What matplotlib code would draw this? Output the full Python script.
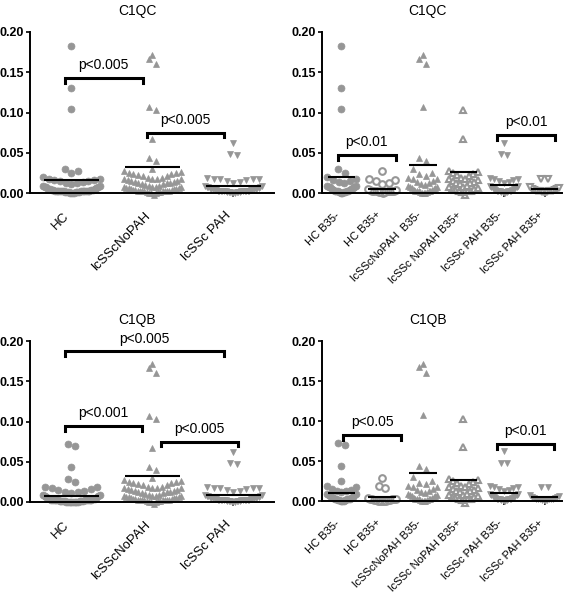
import numpy as np
import matplotlib
matplotlib.use("Agg")
import matplotlib.pyplot as plt

plt.rcParams['font.family'] = ['Liberation Sans', 'DejaVu Sans']

GRAY = '#969696'

# ---- data ----
# C1QC, split by B35 status
c1qc_hc_b35neg = [0.183, 0.130, 0.104, 0.030, 0.025,
                  0.020, 0.018, 0.016, 0.015, 0.014, 0.012,
                  0.000, 0.000, 0.001, 0.001, 0.001, 0.002, 0.002, 0.002, 0.003, 0.003,
                  0.004, 0.004, 0.005, 0.005, 0.006, 0.007, 0.007, 0.008, 0.009, 0.009]
c1qc_hc_b35pos = [0.027, 0.017, 0.016, 0.015, 0.012, 0.011,
                  0.000, 0.001, 0.001, 0.001, 0.002, 0.002, 0.002, 0.002, 0.003, 0.003,
                  0.003, 0.004, 0.004, 0.005]
nopah_b35neg = [0.171, 0.167, 0.160, 0.107, 0.044, 0.040, 0.030, 0.025, 0.023, 0.021,
                0.019, 0.018, 0.017, 0.015, 0.014, 0.013, 0.011,
                0.000, 0.000, 0.000, 0.001, 0.001, 0.002, 0.002, 0.002, 0.003, 0.003,
                0.004, 0.004, 0.005, 0.006, 0.006, 0.007, 0.008, 0.009, 0.010]
nopah_b35pos = [0.103, 0.067, 0.027, 0.026, 0.025, 0.024, 0.022, 0.021,
                0.019, 0.018, 0.017, 0.016, 0.015, 0.014, 0.013, 0.012, 0.011,
                -0.002, 0.001, 0.002, 0.003, 0.003, 0.004, 0.005, 0.005, 0.006, 0.007,
                0.008, 0.009]
pah_b35neg = [0.062, 0.048, 0.047,
              0.019, 0.018, 0.017, 0.016, 0.015, 0.014, 0.012,
              0.000, 0.000, 0.001, 0.001, 0.001, 0.002, 0.002, 0.002, 0.003, 0.003,
              0.003, 0.004, 0.004, 0.005, 0.005, 0.006, 0.006, 0.007, 0.008, 0.009,
              0.009]
pah_b35pos = [0.018, 0.017,
              0.000, 0.001, 0.001, 0.001, 0.002, 0.002, 0.002, 0.003, 0.003, 0.003,
              0.004, 0.004, 0.005, 0.005, 0.006, 0.007]

# C1QB, HC differs, lcSSc groups look the same as C1QC
c1qb_hc_b35neg = [0.072, 0.070, 0.044, 0.025,
                  0.019, 0.017, 0.015, 0.014, 0.013, 0.012, 0.011,
                  0.000, 0.000, 0.000, 0.001, 0.001, 0.001, 0.002, 0.002, 0.002, 0.003,
                  0.003, 0.004, 0.004, 0.005, 0.005, 0.006, 0.007, 0.008, 0.009, 0.009]
c1qb_hc_b35pos = [0.029, 0.019, 0.016,
                  0.000, 0.000, 0.000, 0.000, 0.000, 0.001, 0.001, 0.001, 0.001, 0.002,
                  0.002, 0.002, 0.003, 0.003, 0.004]

# means (horizontal bars) as drawn
c1qc_means_3 = [0.016, 0.032, 0.009]
c1qc_means_6 = [0.020, 0.0053, 0.035, 0.026, 0.010, 0.0046]
c1qb_means_3 = [0.0075, 0.032, 0.009]
c1qb_means_6 = [0.0104, 0.005, 0.035, 0.026, 0.010, 0.0046]

labels_3 = ['HC', 'lcSScNoPAH', 'lcSSc PAH']
labels_6 = ['HC B35-', 'HC B35+', 'lcSScNoPAH  B35-', 'lcSSc NoPAH B35+',
            'lcSSc PAH B35-', 'lcSSc PAH B35+']
labels_6b = ['HC B35-', 'HC B35+', 'lcSScNoPAH B35-', 'lcSSc NoPAH B35+',
             'lcSSc PAH B35-', 'lcSSc PAH B35+']

# brackets: (x start, x end, height, text)
brackets_tl = [(-0.08, 0.88, 0.143, 'p<0.005'), (0.93, 1.88, 0.075, 'p<0.005')]
brackets_tr = [(-0.09, 1.34, 0.047, 'p<0.01'), (3.83, 5.26, 0.072, 'p<0.01')]
brackets_bl = [(-0.08, 1.88, 0.187, 'p<0.005'), (-0.08, 0.87, 0.094, 'p<0.001'),
               (1.10, 2.05, 0.075, 'p<0.005')]
brackets_br = [(0.04, 1.47, 0.0825, 'p<0.05'), (3.83, 5.23, 0.071, 'p<0.01')]


def row_offsets(values, px_x, row_h=0.0095, marker_px=6.5, max_w=0.7):
    """prism-like scatter: points grouped in rows, lowest value in the middle,
    higher values pushed to the edges, row squeezed if it gets too wide"""
    values = np.asarray(values, dtype=float)
    order = np.argsort(values, kind='stable')
    offs = np.zeros(len(values))
    rows = []
    for i in order:
        if rows and values[i] < values[rows[-1][0]] + row_h:
            rows[-1].append(i)
        else:
            rows.append([i])
    for row in rows:
        n = len(row)
        if n == 1:
            continue
        step = min(marker_px / px_x, max_w / (n - 1))
        slots = np.arange(n) - (n - 1) / 2.0
        slots = sorted(slots, key=lambda s: (abs(s), -s))
        for k, idx in enumerate(row):
            offs[idx] = slots[k] * step
    return offs


def draw_panel(ax, title, groups, styles, means, labels, brackets, xlim, label_size):
    fig = ax.figure
    ax.set_xlim(*xlim)
    ax.set_ylim(0, 0.20)
    bbox = ax.get_position()
    px_x = bbox.width * fig.get_figwidth() * fig.dpi / (xlim[1] - xlim[0])

    for i, (vals, (marker, filled)) in enumerate(zip(groups, styles)):
        xs = i + row_offsets(vals, px_x)
        if filled:
            ax.plot(xs, vals, linestyle='none', marker=marker, ms=5.0, color=GRAY,
                    mec=GRAY, mew=0.5, clip_on=False, zorder=2)
        else:
            ax.plot(xs, vals, linestyle='none', marker=marker, ms=4.8, mfc='white',
                    mec=GRAY, mew=1.5, clip_on=False, zorder=2)
        ax.hlines(means[i], i - 0.34, i + 0.34, color='black', lw=1.5, zorder=3)

    for x1, x2, y, txt in brackets:
        ax.plot([x1, x1, x2, x2], [y - 0.006, y, y, y - 0.006], color='black', lw=2.2,
                clip_on=False, solid_joinstyle='miter')
        ax.text((x1 + x2) / 2, y + 0.016, txt, ha='center', va='center', fontsize=10)

    ax.text(0.44, 1.105, title, transform=ax.transAxes, ha='center', va='baseline',
            fontsize=10)

    for s in ['top', 'right']:
        ax.spines[s].set_visible(False)
    for s in ['left', 'bottom']:
        ax.spines[s].set_linewidth(1.4)
    ax.set_yticks([0, 0.05, 0.10, 0.15, 0.20])
    ax.set_yticklabels(['0.00', '0.05', '0.10', '0.15', '0.20'], fontweight='bold',
                       fontsize=9)
    ax.set_xticks(range(len(labels)))
    ax.set_xticklabels(labels, rotation=45, ha='right', fontsize=label_size)
    ax.tick_params(axis='y', length=3, width=1.2, pad=1.5)
    ax.tick_params(axis='x', length=3, width=1.2, pad=9)


fig = plt.figure(figsize=(5.67, 5.99), dpi=100)
W, H = 567.0, 599.0
ax_tl = fig.add_axes([30 / W, 1 - 193 / H, 244 / W, 161 / H])
ax_tr = fig.add_axes([322 / W, 1 - 193 / H, 240 / W, 161 / H])
ax_bl = fig.add_axes([30 / W, 1 - 502 / H, 244 / W, 161 / H])
ax_br = fig.add_axes([322 / W, 1 - 501 / H, 240 / W, 160 / H])

styles_3 = [('o', True), ('^', True), ('v', True)]
styles_6 = [('o', True), ('o', False), ('^', True), ('^', False), ('v', True), ('v', False)]
styles_6b = [('o', True), ('o', False), ('^', True), ('^', False), ('v', True), ('v', True)]

draw_panel(ax_tl, 'C1QC',
           [c1qc_hc_b35neg + c1qc_hc_b35pos, nopah_b35neg + nopah_b35pos,
            pah_b35neg + pah_b35pos],
           styles_3, c1qc_means_3, labels_3, brackets_tl, (-0.51, 2.5), 9.5)
draw_panel(ax_tr, 'C1QC',
           [c1qc_hc_b35neg, c1qc_hc_b35pos, nopah_b35neg, nopah_b35pos,
            pah_b35neg, pah_b35pos],
           styles_6, c1qc_means_6, labels_6, brackets_tr, (-0.48, 5.43), 8)
draw_panel(ax_bl, 'C1QB',
           [c1qb_hc_b35neg + c1qb_hc_b35pos, nopah_b35neg + nopah_b35pos,
            pah_b35neg + pah_b35pos],
           styles_3, c1qb_means_3, labels_3, brackets_bl, (-0.51, 2.5), 9.5)
draw_panel(ax_br, 'C1QB',
           [c1qb_hc_b35neg, c1qb_hc_b35pos, nopah_b35neg, nopah_b35pos,
            pah_b35neg, pah_b35pos],
           styles_6b, c1qb_means_6, labels_6b, brackets_br, (-0.48, 5.43), 8)

fig.savefig('out.png', dpi=100)
